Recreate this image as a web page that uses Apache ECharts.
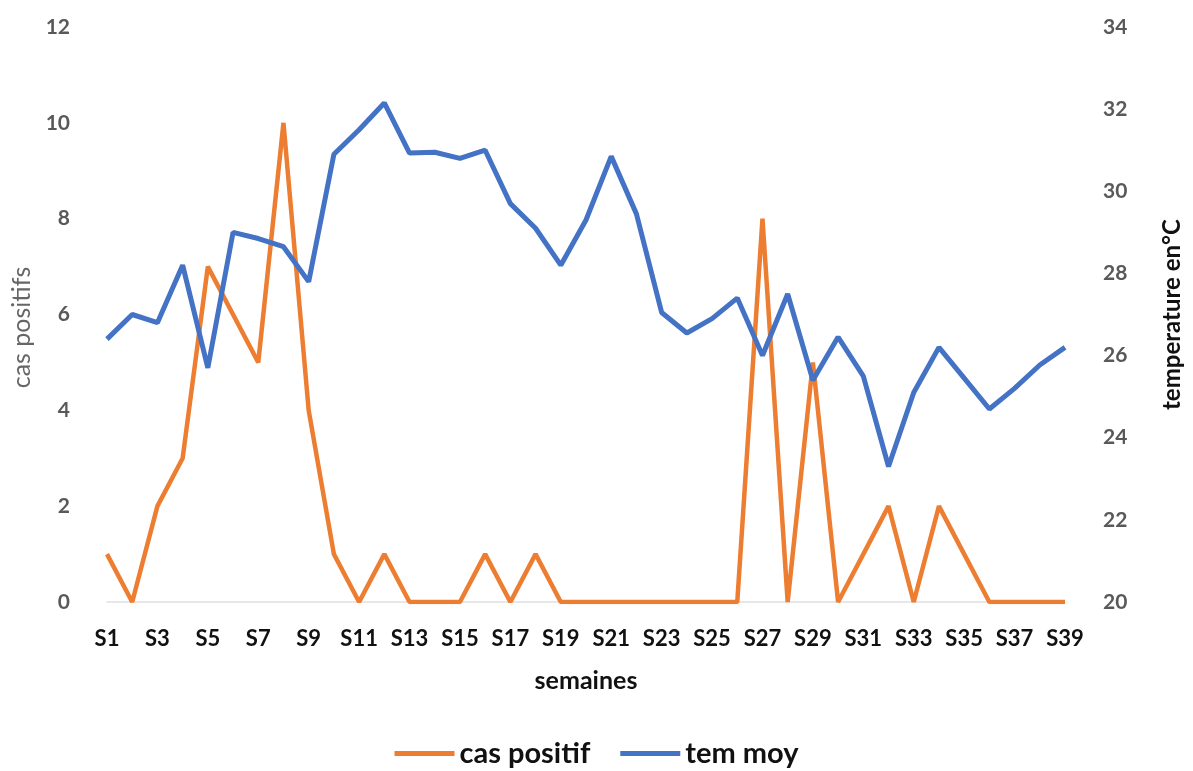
<!DOCTYPE html>
<html>
<head>
<meta charset="utf-8">
<script src="https://cdn.jsdelivr.net/npm/echarts@6/dist/echarts.min.js"></script>
<style>
html,body{margin:0;padding:0;background:#fff;}
#c{width:1193px;height:771px;}
</style>
</head>
<body>
<div id="c"></div>
<script>
const weeks = ["S1","S2","S3","S4","S5","S6","S7","S8","S9","S10","S11","S12","S13","S14","S15","S16","S17","S18","S19","S20","S21","S22","S23","S24","S25","S26","S27","S28","S29","S30","S31","S32","S33","S34","S35","S36","S37","S38","S39"];
const casPositif = [1,0,2,3,7,6,5,10,4,1,0,1,0,0,0,1,0,1,0,0,0,0,0,0,0,0,8,0,5,0,1,2,0,2,1,0,0,0,0];
const temMoy = [26.4,27.0,26.8,28.2,25.7,29.0,28.85,28.65,27.8,30.9,31.5,32.15,30.93,30.95,30.8,31.0,29.7,29.1,28.2,29.3,30.85,29.45,27.05,26.55,26.9,27.4,26.0,27.5,25.4,26.45,25.5,23.3,25.1,26.2,25.45,24.7,25.2,25.77,26.2];
const leftTicks = {min:0,max:12,interval:2};
const rightTicks = {min:20,max:34,interval:2};

const chart = echarts.init(document.getElementById('c'));
const font = 'Lato, "Open Sans", sans-serif';
chart.setOption({
  animation:false,
  backgroundColor:'#fff',
  grid:{left:107,right:128,top:27,bottom:169,containLabel:false},
  legend:{
    top:739,left:'center',padding:0,
    icon:'rect',itemWidth:60,itemHeight:5,itemGap:30,
    textStyle:{fontFamily:font,fontSize:29,fontWeight:'bold',color:'#111'},
    data:['cas positif','tem moy']
  },
  xAxis:{
    type:'category',data:weeks,boundaryGap:false,
    name:'semaines',nameLocation:'middle',nameGap:66,
    nameTextStyle:{fontFamily:font,fontSize:25,fontWeight:'bold',color:'#111'},
    axisLine:{lineStyle:{color:'#e0e0e0',width:1.5}},
    axisTick:{show:false},
    axisLabel:{interval:1,margin:26,fontFamily:font,fontSize:22,fontWeight:'bold',color:'#111'},
    splitLine:{show:false}
  },
  yAxis:[{
    type:'value',min:leftTicks.min,max:leftTicks.max,interval:leftTicks.interval,
    name:'cas positifs',nameLocation:'middle',nameGap:72,nameRotate:90,
    nameTextStyle:{fontFamily:font,fontSize:25,color:'#666666',padding:[0,26,0,0]},
    axisLine:{show:false},axisTick:{show:false},splitLine:{show:false},
    axisLabel:{margin:37,fontFamily:font,fontSize:21,fontWeight:'bold',color:'#595959'}
  },{
    type:'value',position:'right',min:rightTicks.min,max:rightTicks.max,interval:rightTicks.interval,
    name:'temperature en°C',nameLocation:'middle',nameGap:95,nameRotate:90,
    nameTextStyle:{fontFamily:font,fontSize:24,fontWeight:'bold',color:'#111'},
    axisLine:{show:false},axisTick:{show:false},splitLine:{show:false},
    axisLabel:{margin:38,fontFamily:font,fontSize:21,fontWeight:'bold',color:'#595959'}
  }],
  series:[{
    name:'cas positif',type:'line',yAxisIndex:0,data:casPositif,
    showSymbol:false,symbol:'none',
    lineStyle:{color:'#ED7D31',width:4.5},itemStyle:{color:'#ED7D31'}
  },{
    name:'tem moy',type:'line',yAxisIndex:1,data:temMoy,
    showSymbol:false,symbol:'none',
    lineStyle:{color:'#4472C4',width:5},itemStyle:{color:'#4472C4'}
  }]
});
</script>
</body>
</html>
